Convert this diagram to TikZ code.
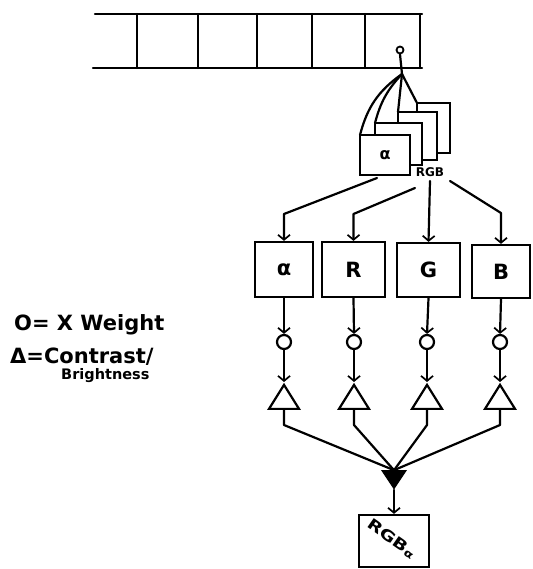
\documentclass[tikz,border=0pt]{standalone}
\usepackage{graphicx}
\usepackage{fontspec}
\setmainfont{DejaVu Sans}
\usetikzlibrary{arrows.meta,shapes.geometric}
\begin{document}
\begin{tikzpicture}[x=1pt,y=-1pt,
  ln/.style={line width=2.2pt, line cap=round, line join=round},
  arr/.style={ln,-{Straight Barb[length=5pt,width=12pt,line width=1.7pt]}},
  box/.style={draw,line width=2.2pt,fill=white,inner sep=0pt},
  wc/.style={circle,draw,line width=2.2pt,minimum size=14pt,inner sep=0pt},
  tri/.style={isosceles triangle,draw,line width=2.2pt,shape border rotate=90,
    isosceles triangle stretches,minimum width=30pt,minimum height=24pt,inner sep=0pt,anchor=apex},
  lbl/.style={font=\bfseries\fontsize{21}{21}\selectfont},
  leg/.style={anchor=west,inner sep=0pt}]
\useasboundingbox (0,0) rectangle (532,569);

% register strip
\draw[ln] (95,14) -- (422,14);
\draw[ln] (93,68) -- (422,68);
\foreach \x in {137,198,257,312,365,420} \draw[ln] (\x,14) -- (\x,68);

% top tap
\node[circle,draw,line width=1.8pt,minimum size=7pt,inner sep=0pt] (tap) at (400,50) {};
\coordinate (ap) at (402,74);
\draw[ln] (tap.south) -- (ap);

% stacked frames
\draw[ln] (ap) -- (417,103);
\draw[ln] (ap) -- (398,112);
\draw[ln] (ap) to[bend right=14] (375,123);
\draw[ln] (ap) to[bend right=20] (360,135);
\node[box,minimum width=33pt,minimum height=50pt] (f4) at (433.5,128) {};
\node[box,minimum width=39pt,minimum height=48pt] (f3) at (417.5,136) {};
\node[box,minimum width=47pt,minimum height=42pt] (f2) at (398.5,144) {};
\node[box,minimum width=50pt,minimum height=40pt,font=\bfseries\fontsize{16}{16}\selectfont] (f1) at (385,155) {α};
\node[font=\bfseries\fontsize{12}{12}\selectfont,inner sep=0pt] (rgb) at (430,172) {RGB};

% channel boxes
\node[box,lbl,minimum width=58pt,minimum height=55pt] (b1) at (284,269.5) {α};
\node[box,lbl,minimum width=63pt,minimum height=55pt] (b2) at (353.5,269.5) {R};
\node[box,lbl,minimum width=63pt,minimum height=54pt] (b3) at (428.5,270) {G};
\node[box,lbl,minimum width=58pt,minimum height=53pt] (b4) at (501,271.5) {B};

\coordinate (s1) at (377,178);
\coordinate (s2) at (415,188);
\coordinate (s3) at (430,181);
\coordinate (s4) at (450,181);
\coordinate (e1) at (284,214);
\coordinate (e2) at (353.5,214);
\coordinate (e4) at (501,213);
\draw[arr] (s1) -- (e1) -- (b1.north);
\draw[arr] (s2) -- (e2) -- (b2.north);
\draw[arr] (s3) -- (b3.north);
\draw[arr] (s4) -- (e4) -- (b4.north);

% weights and contrast
\foreach \i/\x in {1/284,2/354,3/427,4/500}{
  \node[wc] (c\i) at (\x,342) {};
  \node[tri] (t\i) at (\x,382) {};
  \coordinate (m\i) at (\x,425);
}
\foreach \i in {1,2,3,4}{
  \draw[arr] (b\i.south) -- (c\i.north);
  \draw[arr] (c\i.south) -- (t\i.apex);
}

% merge
\node[isosceles triangle,fill=black,draw,line width=1pt,shape border rotate=270,
  isosceles triangle stretches,minimum width=24pt,minimum height=18pt,inner sep=0pt,anchor=apex] (mg) at (394,490) {};
\foreach \i in {1,2,3,4}{
  \draw[ln] (t\i.lower side) -- (m\i) -- (mg.lower side);
}

% output
\node[box,minimum width=70pt,minimum height=52pt] (out) at (394,541) {};
\node[rotate=-35,font=\bfseries\fontsize{15}{15}\selectfont,inner sep=0pt] (outl) at (392,539) {\scalebox{1.3}[1]{RGB\textsubscript{α}}};
\draw[arr] (mg.apex) -- (out.north);

% legend
\node[leg,font=\bfseries\fontsize{21}{21}\selectfont] (l1) at (14,325) {O= X Weight};
\node[leg,font=\bfseries\fontsize{21}{21}\selectfont] (l2) at (10,357) {Δ=Contrast/};
\node[leg,font=\bfseries\fontsize{14.5}{14.5}\selectfont] (l3) at (61,376) {Brightness};
\end{tikzpicture}
\end{document}
